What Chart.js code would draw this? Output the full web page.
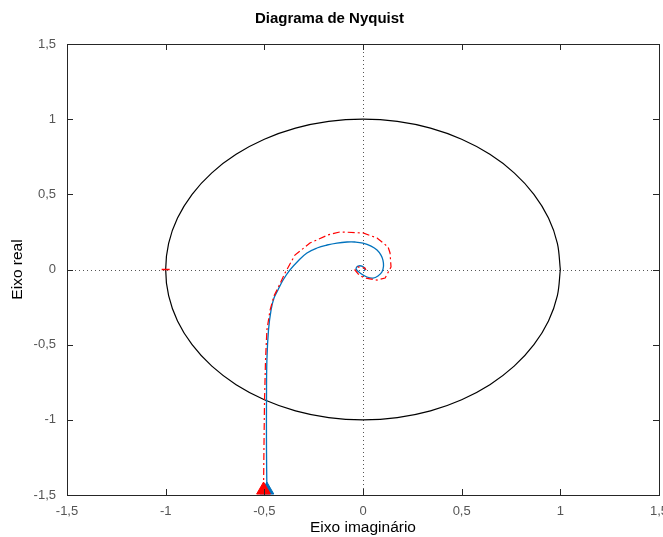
<!DOCTYPE html>
<html>
<head>
<meta charset="utf-8">
<script src="https://cdn.jsdelivr.net/npm/chart.js@4"></script>
<style>
  html, body { margin: 0; padding: 0; background: #fff; }
  canvas { display: block; }
</style>
</head>
<body>
<canvas id="chartNyquist" width="663" height="537"></canvas>
<script>
// tick values for both axes
const ticksX = [-1.5, -1, -0.5, 0, 0.5, 1, 1.5];
const ticksY = [-1.5, -1, -0.5, 0, 0.5, 1, 1.5];

// nyquist curve (solid blue)
const blueX = [-0.487, -0.489, -0.489, -0.487, -0.479, -0.466, -0.451, -0.431, -0.405, -0.370, -0.329, -0.284, -0.233, -0.182, -0.132, -0.081, -0.041, 0.000, 0.041, 0.071, 0.091, 0.101, 0.104, 0.096, 0.076, 0.051, 0.020, -0.015, -0.035, -0.025, 0.000, 0.010, 0.005];
const blueY = [-1.467, -1.201, -0.868, -0.602, -0.403, -0.270, -0.190, -0.136, -0.070, -0.003, 0.057, 0.110, 0.143, 0.163, 0.176, 0.183, 0.183, 0.176, 0.156, 0.130, 0.096, 0.063, 0.023, -0.017, -0.043, -0.057, -0.050, -0.023, 0.003, 0.023, 0.020, 0.003, -0.010];

// approximation (red dash-dot)
const redX = [-0.504, -0.502, -0.499, -0.494, -0.487, -0.471, -0.451, -0.431, -0.395, -0.345, -0.269, -0.177, -0.117, 0.000, 0.071, 0.127, 0.137, 0.142, 0.112, 0.071, 0.010, -0.020, -0.041, -0.025, 0.010, 0.015];
const redY = [-1.467, -1.201, -0.868, -0.602, -0.403, -0.270, -0.176, -0.123, -0.023, 0.096, 0.176, 0.230, 0.250, 0.243, 0.210, 0.150, 0.110, 0.017, -0.057, -0.070, -0.057, -0.037, -0.003, 0.017, 0.010, -0.003];

// unit circle, every 10 degrees
const circleX = [1, 0.985, 0.940, 0.866, 0.766, 0.643, 0.5, 0.342, 0.174, 0, -0.174, -0.342, -0.5, -0.643, -0.766, -0.866, -0.940, -0.985, -1, -0.985, -0.940, -0.866, -0.766, -0.643, -0.5, -0.342, -0.174, 0, 0.174, 0.342, 0.5, 0.643, 0.766, 0.866, 0.940, 0.985, 1];
const circleY = [0, 0.174, 0.342, 0.5, 0.643, 0.766, 0.866, 0.940, 0.985, 1, 0.985, 0.940, 0.866, 0.766, 0.643, 0.5, 0.342, 0.174, 0, -0.174, -0.342, -0.5, -0.643, -0.766, -0.866, -0.940, -0.985, -1, -0.985, -0.940, -0.866, -0.766, -0.643, -0.5, -0.342, -0.174, 0];

// critical point -1
const critX = [-1];
const critY = [0];

function pts(xs, ys) {
    return xs.map((x, i) => ({ x: x, y: ys[i] }));
}

const fmt = v => String(v).replace('.', ',');

const axisColor = '#262626';

// octave-like box: inward ticks on every side + dotted zero lines
const boxPlugin = {
    id: 'box',
    beforeDatasetsDraw(chart) {
        const { ctx, chartArea: a, scales } = chart;
        const x0 = Math.round(scales.x.getPixelForValue(0)) + 0.5;
        const y0 = Math.round(scales.y.getPixelForValue(0)) + 0.5;
        ctx.save();
        ctx.strokeStyle = '#555';
        ctx.lineWidth = 1;
        ctx.setLineDash([1, 3]);
        ctx.beginPath();
        ctx.moveTo(x0, a.top); ctx.lineTo(x0, a.bottom);
        ctx.moveTo(a.left, y0); ctx.lineTo(a.right, y0);
        ctx.stroke();
        ctx.restore();
    },
    afterDatasetsDraw(chart) {
        const { ctx, chartArea: a, scales } = chart;
        const len = 6;
        ctx.save();
        ctx.strokeStyle = axisColor;
        ctx.lineWidth = 1;
        ctx.beginPath();
        ticksX.forEach(v => {
            const px = Math.round(scales.x.getPixelForValue(v)) + 0.5;
            ctx.moveTo(px, a.top); ctx.lineTo(px, a.top + len);
            ctx.moveTo(px, a.bottom); ctx.lineTo(px, a.bottom - len);
        });
        ticksY.forEach(v => {
            const py = Math.round(scales.y.getPixelForValue(v)) + 0.5;
            ctx.moveTo(a.left, py); ctx.lineTo(a.left + len, py);
            ctx.moveTo(a.right, py); ctx.lineTo(a.right - len, py);
        });
        ctx.stroke();
        ctx.strokeRect(Math.round(a.left) + 0.5, Math.round(a.top) + 0.5,
                       Math.round(a.right - a.left), Math.round(a.bottom - a.top));
        ctx.restore();
    }
};

var ctx = document.getElementById('chartNyquist').getContext('2d');
var chart = new Chart(ctx, {
    type: 'scatter',
    data: {
        datasets: [
            {
                label: 'ponto critico',
                data: pts(critX, critY),
                pointStyle: 'line',
                pointRadius: 4,
                borderColor: '#FF0000',
                borderWidth: 1.5,
                order: 0
            },
            {
                label: 'circulo',
                data: pts(circleX, circleY),
                showLine: true,
                borderColor: '#000000',
                borderWidth: 1.2,
                pointRadius: 0,
                tension: 0.35,
                order: 5
            },
            {
                label: 'nyquist',
                data: pts(blueX, blueY),
                showLine: true,
                borderColor: '#0072BD',
                borderWidth: 1.3,
                pointRadius: 0,
                tension: 0.4,
                order: 4
            },
            {
                label: 'aproximacao',
                data: pts(redX, redY),
                showLine: true,
                borderColor: '#FF0000',
                borderWidth: 1.2,
                borderDash: [7, 3, 2, 3],
                pointRadius: 0,
                tension: 0,
                order: 3
            },
            {
                label: 'inicio nyquist',
                data: pts(blueX.slice(0, 1), blueY.slice(0, 1)),
                pointStyle: 'triangle',
                pointRadius: 8,
                backgroundColor: '#0072BD',
                borderColor: '#0072BD',
                borderWidth: 1,
                order: 2
            },
            {
                label: 'inicio aproximacao',
                data: pts(redX.slice(0, 1), redY.slice(0, 1)),
                pointStyle: 'triangle',
                pointRadius: 8,
                backgroundColor: '#FF0000',
                borderColor: '#FF0000',
                borderWidth: 1,
                order: 1
            }
        ]
    },
    options: {
        responsive: false,
        animation: false,
        layout: { autoPadding: false, padding: { top: 0, right: 4, bottom: 0, left: 0 } },
        plugins: {
            legend: { display: false },
            tooltip: { enabled: false },
            title: {
                display: true,
                text: 'Diagrama de Nyquist',
                color: '#000',
                font: { family: 'Liberation Sans', size: 15, weight: 'bold' },
                padding: { top: 10, bottom: 16 }
            }
        },
        scales: {
            x: {
                type: 'linear',
                min: -1.5,
                max: 1.5,
                afterBuildTicks: s => { s.ticks = ticksX.map(v => ({ value: v })); },
                afterFit: s => { s.height = 42; s.paddingLeft = 0; s.paddingRight = 0; },
                grid: { display: false, drawTicks: false },
                border: { display: false },
                ticks: {
                    padding: 9,
                    color: '#555',
                    maxRotation: 0,
                    autoSkip: false,
                    font: { family: 'Liberation Sans', size: 13 },
                    callback: v => fmt(v)
                },
                title: {
                    display: true,
                    text: 'Eixo imaginário',
                    color: '#000',
                    font: { family: 'Liberation Sans', size: 15.5 },
                    padding: { top: 1, bottom: 0 }
                }
            },
            y: {
                type: 'linear',
                min: -1.5,
                max: 1.5,
                afterBuildTicks: s => { s.ticks = ticksY.map(v => ({ value: v })); },
                afterFit: s => { s.width = 67; s.paddingTop = 0; s.paddingBottom = 0; },
                grid: { display: false, drawTicks: false },
                border: { display: false },
                ticks: {
                    padding: 11,
                    color: '#555',
                    autoSkip: false,
                    font: { family: 'Liberation Sans', size: 13 },
                    callback: v => fmt(v)
                },
                title: {
                    display: true,
                    text: 'Eixo real',
                    color: '#000',
                    font: { family: 'Liberation Sans', size: 15.5 },
                    padding: { top: 8, bottom: 0 }
                }
            }
        }
    },
    plugins: [boxPlugin]
});
</script>
</body>
</html>
